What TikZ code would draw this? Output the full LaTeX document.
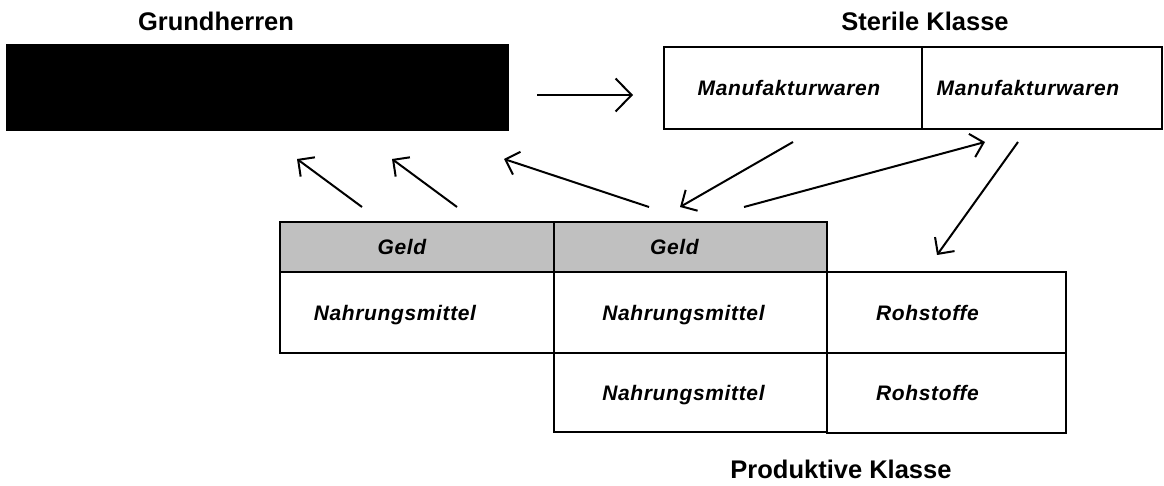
\documentclass[tikz,border=0pt]{standalone}
\usepackage{fontspec}
\setmainfont{Liberation Sans}
\newfontfamily\labelfont[LetterSpace=3]{Liberation Sans}
\usepackage{xcolor}
\definecolor{geldgray}{RGB}{192,192,192}
\usetikzlibrary{arrows.meta,positioning}
\tikzset{
  cell/.style={draw=black, line width=2pt, anchor=north west, inner sep=0pt},
  celltext/.style={font=\labelfont\bfseries\itshape\fontsize{21}{24}\selectfont,
    text height=15pt, text depth=0pt, inner sep=0pt},
  title/.style={font=\bfseries\fontsize{25.5}{30}\selectfont, anchor=base},
  flow/.style={line width=2pt, -{Straight Barb[length=12pt,width=24pt]}}
}
\begin{document}
\begin{tikzpicture}[x=1pt,y=-1pt]
    \useasboundingbox (0,0) rectangle (1164,486);
    % Grundherren
    \node[title] (tGrund) at (216,31) {Grundherren};
    \node[cell, fill=black, minimum width=501pt, minimum height=85pt] (grund) at (6,44) {};
    % Sterile Klasse
    \node[title] (tSteril) at (925,31) {Sterile Klasse};
    \node[cell, minimum width=258pt, minimum height=82pt] (manuA) at (663,46) {};
    \node[cell, minimum width=240pt, minimum height=82pt] (manuB) at (921,46) {};
    \node[celltext, xshift=-4pt] (tManuA) at (manuA) {Manufakturwaren};
    \node[celltext, xshift=-14pt] (tManuB) at (manuB) {Manufakturwaren};
    % Produktive Klasse
    \node[cell, fill=geldgray, minimum width=274pt, minimum height=50pt] (geldA) at (279,221) {};
    \node[cell, fill=geldgray, minimum width=273pt, minimum height=50pt] (geldB) at (553,221) {};
    \node[cell, minimum width=274pt, minimum height=81pt] (nahrA) at (279,271) {};
    \node[cell, minimum width=273pt, minimum height=81pt] (nahrB) at (553,271) {};
    \node[cell, minimum width=273pt, minimum height=79pt] (nahrC) at (553,352) {};
    \node[cell, minimum width=239pt, minimum height=81pt] (rohA) at (826,271) {};
    \node[cell, minimum width=239pt, minimum height=80pt] (rohB) at (826,352) {};
    \node[celltext, xshift=-15pt] (tGeldA) at (geldA) {Geld};
    \node[celltext, xshift=-16pt] (tGeldB) at (geldB) {Geld};
    \node[celltext, xshift=-22pt] (tNahrA) at (nahrA) {Nahrungsmittel};
    \node[celltext, xshift=-7pt] (tNahrB) at (nahrB) {Nahrungsmittel};
    \node[celltext, xshift=-7pt] (tNahrC) at (nahrC) {Nahrungsmittel};
    \node[celltext, xshift=-19pt] (tRohA) at (rohA) {Rohstoffe};
    \node[celltext, xshift=-19pt] (tRohB) at (rohB) {Rohstoffe};
    \node[title] (tProd) at (841,478) {Produktive Klasse};
    % arrow ends
    \coordinate (rentS) at (537,95);   \coordinate (rentE) at (633,95);
    \coordinate (pachtAS) at (362,207); \coordinate (pachtAE) at (297,159);
    \coordinate (pachtBS) at (457,207); \coordinate (pachtBE) at (392,159);
    \coordinate (pachtCS) at (649,207); \coordinate (pachtCE) at (504,159);
    \coordinate (manuS) at (793,142);  \coordinate (manuE) at (680,207);
    \coordinate (kaufS) at (744,207);  \coordinate (kaufE) at (985,142);
    \coordinate (rohS) at (1018,142);  \coordinate (rohE) at (937,255);
    \draw[flow, -{Straight Barb[length=16pt,width=33pt]}] (rentS) -- (rentE);
    \draw[flow] (pachtAS) -- (pachtAE);
    \draw[flow] (pachtBS) -- (pachtBE);
    \draw[flow] (pachtCS) -- (pachtCE);
    \draw[flow] (manuS) -- (manuE);
    \draw[flow] (kaufS) -- (kaufE);
    \draw[flow] (rohS) -- (rohE);
\end{tikzpicture}
\end{document}
